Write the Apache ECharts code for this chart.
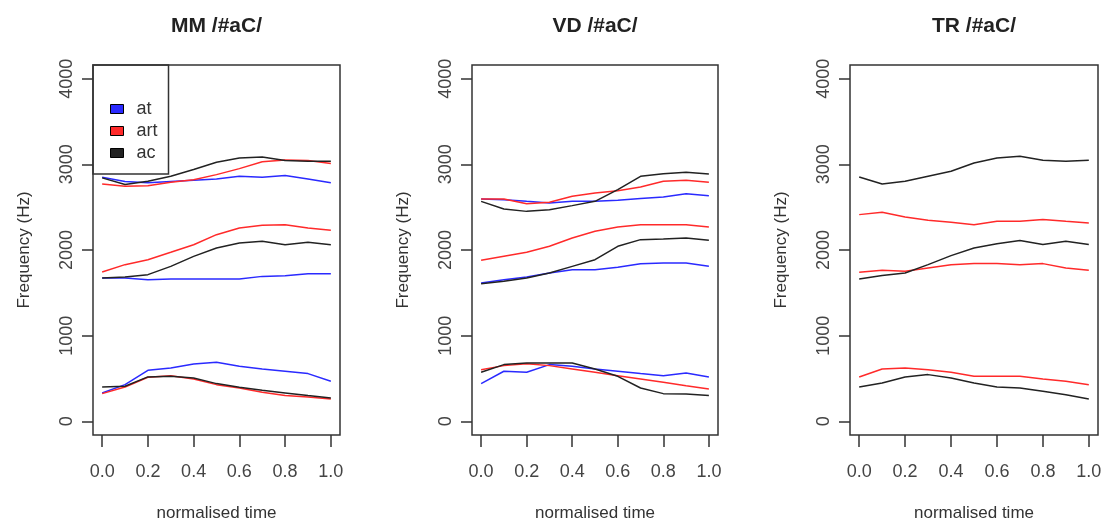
<!DOCTYPE html>
<html>
<head>
<meta charset="utf-8">
<script src="https://cdn.jsdelivr.net/npm/echarts@6/dist/echarts.min.js"></script>
<style>
  html, body { margin: 0; padding: 0; background: #fff; }
  #chart { width: 1103px; height: 521px; }
</style>
</head>
<body>
<div id="chart"></div>
<script>
// normalised time points, shared by every track
const times = [0, 0.1, 0.2, 0.3, 0.4, 0.5, 0.6, 0.7, 0.8, 0.9, 1.0];
const xTicks = [0, 0.2, 0.4, 0.6, 0.8, 1.0];
const yTicks = [0, 1000, 2000, 3000, 4000];
const conditions = ['at', 'art', 'ac'];

// MM /#aC/
const mmAtF1 = [331, 428, 595, 623, 669, 689, 642, 611, 584, 557, 467];
const mmArtF1 = [323, 401, 514, 533, 494, 428, 389, 339, 300, 284, 261];
const mmAcF1 = [401, 409, 518, 525, 506, 440, 397, 362, 331, 300, 272];
const mmAtF2 = [1673, 1673, 1654, 1661, 1661, 1661, 1661, 1692, 1700, 1724, 1724];
const mmArtF2 = [1743, 1829, 1887, 1973, 2062, 2179, 2257, 2288, 2296, 2257, 2230];
const mmAcF2 = [1673, 1685, 1712, 1809, 1926, 2023, 2082, 2101, 2062, 2090, 2062];
const mmAtF3 = [2850, 2800, 2785, 2800, 2815, 2830, 2860, 2850, 2870, 2830, 2785];
const mmArtF3 = [2770, 2745, 2750, 2790, 2820, 2880, 2950, 3030, 3050, 3045, 3010];
const mmAcF3 = [2842, 2764, 2802, 2861, 2939, 3024, 3075, 3087, 3044, 3037, 3037];

// VD /#aC/
const vdAtF1 = [440, 584, 572, 662, 642, 611, 584, 557, 533, 564, 518];
const vdArtF1 = [603, 650, 673, 650, 611, 572, 533, 494, 455, 416, 378];
const vdAcF1 = [572, 662, 681, 681, 681, 611, 525, 389, 323, 319, 300];
const vdAtF2 = [1615, 1654, 1685, 1731, 1770, 1770, 1798, 1840, 1848, 1848, 1809];
const vdArtF2 = [1879, 1926, 1973, 2043, 2140, 2218, 2269, 2296, 2296, 2296, 2269];
const vdAcF2 = [1607, 1634, 1673, 1731, 1809, 1887, 2043, 2121, 2128, 2140, 2113];
const vdAtF3 = [2595, 2588, 2568, 2549, 2568, 2568, 2580, 2600, 2619, 2658, 2634];
const vdArtF3 = [2595, 2595, 2541, 2557, 2627, 2666, 2693, 2736, 2802, 2813, 2790];
const vdAcF3 = [2568, 2479, 2451, 2471, 2518, 2568, 2704, 2860, 2891, 2907, 2887];

// TR /#aC/ (no "at" tracks)
const trArtF1 = [518, 611, 623, 603, 572, 525, 525, 525, 494, 467, 428];
const trAcF1 = [401, 448, 518, 545, 506, 448, 401, 389, 350, 311, 261];
const trArtF2 = [1740, 1763, 1751, 1790, 1829, 1841, 1841, 1829, 1841, 1790, 1763];
const trAcF2 = [1662, 1701, 1731, 1829, 1934, 2023, 2074, 2110, 2063, 2102, 2063];
const trArtF3 = [2413, 2440, 2386, 2347, 2323, 2296, 2335, 2335, 2355, 2335, 2316];
const trAcF3 = [2853, 2771, 2802, 2861, 2919, 3016, 3075, 3094, 3047, 3036, 3047];

const colors = { at: '#2a2aff', art: '#ff2a2a', ac: '#222222' };
const font = 'Liberation Sans, Arial, sans-serif';
const ink = '#333';

const panels = [
    { title: 'MM /#aC/', left: 93, width: 247,
      tracks: { at: [mmAtF1, mmAtF2, mmAtF3], art: [mmArtF1, mmArtF2, mmArtF3], ac: [mmAcF1, mmAcF2, mmAcF3] } },
    { title: 'VD /#aC/', left: 472, width: 246,
      tracks: { at: [vdAtF1, vdAtF2, vdAtF3], art: [vdArtF1, vdArtF2, vdArtF3], ac: [vdAcF1, vdAcF2, vdAcF3] } },
    { title: 'TR /#aC/', left: 850, width: 248,
      tracks: { art: [trArtF1, trArtF2, trArtF3], ac: [trAcF1, trAcF2, trAcF3] } },
];

const chart = echarts.init(document.getElementById('chart'), null, { renderer: 'canvas' });

const grids = [], xAxes = [], yAxes = [], titles = [], series = [];
panels.forEach((p, i) => {
    grids.push({
        left: p.left, width: p.width, top: 65, height: 370,
        outerBoundsMode: 'none', // keep the plot box where it is, labels may sit near the edge
        show: true, borderColor: ink, borderWidth: 1.5, backgroundColor: 'transparent',
    });
    xAxes.push({
        gridIndex: i, type: 'value', min: -0.04, max: 1.04,
        name: 'normalised time', nameLocation: 'middle', nameGap: 70,
        nameTextStyle: { fontFamily: font, fontSize: 17, color: ink },
        axisLine: { show: false, onZero: false },
        axisTick: { show: true, inside: false, length: 12, customValues: xTicks, lineStyle: { color: ink, width: 1.5 } },
        axisLabel: { customValues: xTicks, margin: 28, fontFamily: font, fontSize: 18, color: '#444',
                     formatter: v => v.toFixed(1) },
        splitLine: { show: false },
    });
    yAxes.push({
        gridIndex: i, type: 'value', min: -160, max: 4160,
        name: 'Frequency (Hz)', nameLocation: 'middle', nameGap: 60, nameRotate: 90,
        nameTextStyle: { fontFamily: font, fontSize: 17, color: ink },
        axisLine: { show: false, onZero: false },
        axisTick: { show: true, inside: false, length: 11, customValues: yTicks, lineStyle: { color: ink, width: 1.5 } },
        axisLabel: { customValues: yTicks, rotate: 90, margin: 17, fontFamily: font, fontSize: 18, color: '#444',
                     formatter: v => String(v) },
        splitLine: { show: false },
    });
    titles.push({
        text: p.title, left: p.left + p.width / 2 - 5, top: 11, textAlign: 'center',
        textStyle: { fontFamily: font, fontSize: 21, fontWeight: 'bold', color: '#222' },
    });
    conditions.forEach(c => {
        const formants = p.tracks[c];
        if (!formants) return;
        formants.forEach(vals => {
            series.push({
                name: c, type: 'line', xAxisIndex: i, yAxisIndex: i,
                data: times.map((t, k) => [t, vals[k]]),
                showSymbol: false, smooth: false, silent: true,
                lineStyle: { color: colors[c], width: 1.5 },
                itemStyle: { color: colors[c] },
            });
        });
    });
});

const option = {
    backgroundColor: '#fff',
    animation: false,
    title: titles,
    legend: {
        data: conditions.map(c => ({ name: c, itemStyle: { color: colors[c], borderColor: '#000', borderWidth: 1 } })),
        orient: 'vertical', left: 93, top: 65,
        padding: [35, 11, 12, 17],
        borderColor: ink, borderWidth: 1.5,
        icon: 'rect', itemWidth: 13, itemHeight: 9, itemGap: 4,
        selectedMode: false,
        textStyle: { fontFamily: font, fontSize: 18, color: '#333', padding: [0, 0, 0, 8] },
    },
    grid: grids,
    xAxis: xAxes,
    yAxis: yAxes,
    series: series,
};

chart.setOption(option);
</script>
</body>
</html>
